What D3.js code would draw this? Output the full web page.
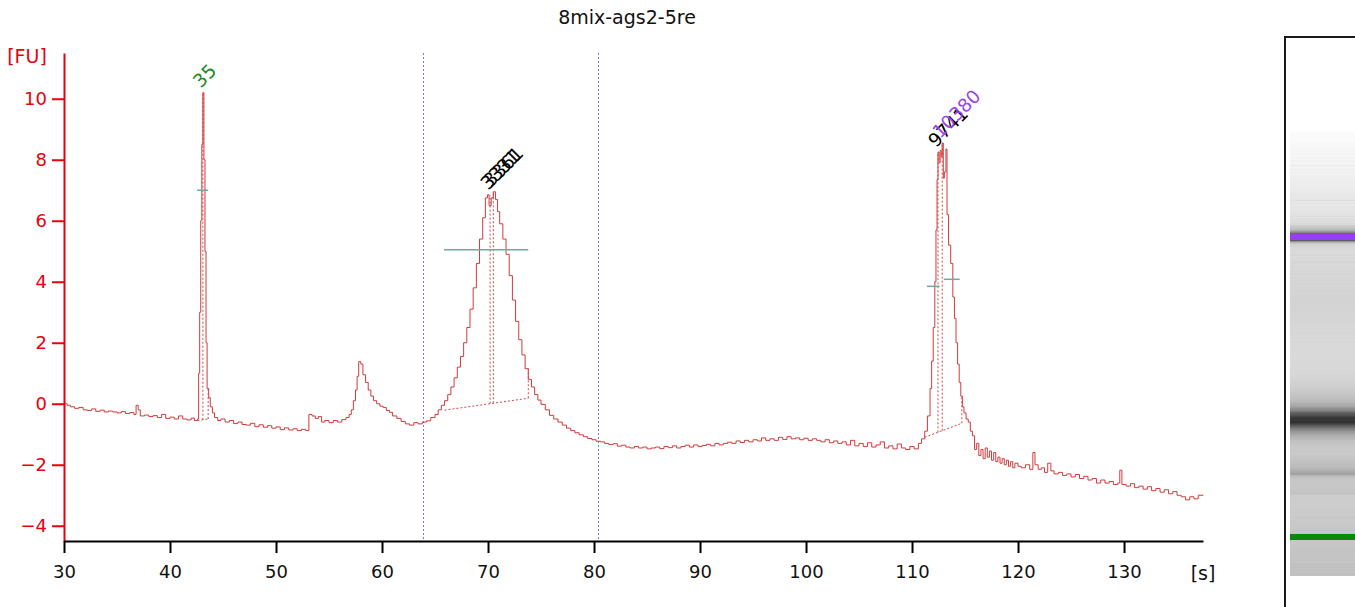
<!DOCTYPE html>
<html>
<head>
<meta charset="utf-8">
<script src="https://cdn.jsdelivr.net/npm/d3@7"></script>
<style>
  html, body { margin: 0; padding: 0; background: #ffffff; }
  svg { display: block; font-family: "DejaVu Sans", Verdana, sans-serif; }
</style>
</head>
<body>
<svg id="chart" width="1355" height="607"></svg>
<script>
// ---------------- DATA ----------------
const chartTitle = "8mix-ags2-5re";
const xTicks = [30, 40, 50, 60, 70, 80, 90, 100, 110, 120, 130];
const yTicks = [-4, -2, 0, 2, 4, 6, 8, 10];
const xUnit = "[s]";
const yUnit = "[FU]";

const timeS = [
  30.0, 30.3, 30.6, 31.0, 31.4, 31.8, 32.2, 32.6, 33.0, 33.4, 33.8, 34.2, 34.6, 35.0, 35.4, 35.8, 36.2, 36.6, 36.8, 37.0,
  37.2, 37.6, 38.0, 38.4, 38.8, 39.2, 39.6, 40.0, 40.4, 40.8, 41.2, 41.6, 42.0, 42.3, 42.6, 42.7, 42.8, 42.9, 43.0, 43.1,
  43.2, 43.3, 43.4, 43.5, 43.65, 43.8, 44.0, 44.2, 44.5, 44.8, 45.2, 45.6, 46.0, 46.4, 46.8, 47.2, 47.6, 48.0, 48.4, 48.8,
  49.2, 49.6, 50.0, 50.4, 50.8, 51.2, 51.6, 52.0, 52.4, 52.8, 53.1, 53.4, 53.7, 54.0, 54.3, 54.6, 55.0, 55.4, 55.8, 56.2,
  56.6, 56.9, 57.1, 57.3, 57.5, 57.65, 57.8, 58.0, 58.2, 58.45, 58.7, 58.95, 59.2, 59.5, 59.8, 60.1, 60.4, 60.7, 61.0, 61.4,
  61.8, 62.2, 62.6, 63.0, 63.4, 63.8, 64.2, 64.6, 65.0, 65.3, 65.6, 65.9, 66.2, 66.5, 66.8, 67.1, 67.4, 67.7, 68.0, 68.3,
  68.6, 68.9, 69.2, 69.5, 69.75, 69.95, 70.1, 70.3, 70.5, 70.7, 70.9, 71.1, 71.4, 71.7, 72.0, 72.3, 72.6, 72.9, 73.2, 73.5,
  73.8, 74.1, 74.4, 74.7, 75.0, 75.4, 75.8, 76.2, 76.6, 77.0, 77.4, 77.8, 78.2, 78.6, 79.0, 79.4, 79.8, 80.2, 80.6, 81.0,
  81.4, 81.8, 82.2, 82.6, 83.0, 83.4, 83.8, 84.2, 84.6, 85.0, 85.4, 85.8, 86.2, 86.6, 87.0, 87.4, 87.8, 88.2, 88.6, 89.0,
  89.4, 89.8, 90.2, 90.6, 91.0, 91.4, 91.8, 92.2, 92.6, 93.0, 93.4, 93.8, 94.2, 94.6, 95.0, 95.4, 95.8, 96.2, 96.6, 97.0,
  97.4, 97.8, 98.2, 98.6, 99.0, 99.4, 99.8, 100.2, 100.6, 101.0, 101.4, 101.8, 102.2, 102.6, 103.0, 103.4, 103.8, 104.2, 104.6, 105.0,
  105.4, 105.8, 106.2, 106.6, 107.0, 107.4, 107.8, 108.2, 108.6, 109.0, 109.4, 109.8, 110.2, 110.6, 110.9, 111.2, 111.45, 111.7, 111.85, 112.0,
  112.15, 112.26, 112.36, 112.45, 112.55, 112.65, 112.75, 112.85, 112.95, 113.05, 113.2, 113.3, 113.45, 113.65, 113.85, 114.0, 114.15, 114.3, 114.45, 114.6,
  114.75, 114.9, 115.1, 115.3, 115.5, 115.7, 115.9, 116.1, 116.3, 116.5, 116.7, 116.9, 117.1, 117.3, 117.5, 117.7, 117.9, 118.1, 118.3, 118.5,
  118.7, 118.9, 119.1, 119.3, 119.5, 119.7, 120.0, 120.3, 120.7, 121.1, 121.4, 121.6, 121.9, 122.2, 122.5, 122.8, 123.1, 123.4, 123.8, 124.2,
  124.6, 125.0, 125.4, 125.8, 126.2, 126.6, 127.0, 127.4, 127.8, 128.2, 128.6, 129.0, 129.4, 129.6, 129.8, 130.2, 130.6, 131.0, 131.4, 131.8,
  132.2, 132.6, 133.0, 133.4, 133.8, 134.2, 134.6, 135.0, 135.4, 135.8, 136.2, 136.6, 137.0, 137.45
];
const fluorescenceFU = [
  0.0, -0.05, -0.1, -0.15, -0.12, -0.2, -0.22, -0.17, -0.25, -0.21, -0.27, -0.24, -0.27, -0.3, -0.26, -0.32, -0.29, -0.35, -0.05, -0.2,
  -0.4, -0.37, -0.42, -0.39, -0.45, -0.35, -0.48, -0.44, -0.5, -0.4, -0.5, -0.53, -0.47, -0.55, -0.5, 1.0, 3.0, 6.0, 8.5, 10.2,
  8.0, 5.0, 2.0, 0.5, 0.2, -0.1, -0.3, -0.45, -0.55, -0.5, -0.6, -0.55, -0.65, -0.6, -0.68, -0.7, -0.64, -0.75, -0.69, -0.77,
  -0.72, -0.8, -0.76, -0.85, -0.79, -0.86, -0.82, -0.88, -0.84, -0.88, -0.35, -0.4, -0.48, -0.42, -0.6, -0.55, -0.62, -0.55, -0.6, -0.52,
  -0.45, -0.35, -0.2, 0.1, 0.45, 0.9, 1.38, 1.3, 0.95, 0.7, 0.45, 0.25, 0.1, 0.0, -0.08, -0.12, -0.22, -0.28, -0.4, -0.48,
  -0.58, -0.66, -0.7, -0.62, -0.66, -0.6, -0.56, -0.45, -0.35, -0.2, -0.05, 0.1, 0.3, 0.55, 0.85, 1.2, 1.55, 2.0, 2.5, 3.1,
  3.8, 4.6, 5.4, 6.1, 6.75, 6.85, 6.5, 6.75, 6.95, 6.7, 6.3, 5.9, 5.4, 4.9, 4.2, 3.4, 2.7, 2.1, 1.6, 1.15,
  0.8, 0.55, 0.3, 0.12, -0.02, -0.2, -0.38, -0.5, -0.6, -0.7, -0.8, -0.88, -0.95, -1.02, -1.08, -1.14, -1.18, -1.23, -1.25, -1.3,
  -1.34, -1.31, -1.39, -1.36, -1.42, -1.45, -1.4, -1.45, -1.42, -1.48, -1.45, -1.42, -1.47, -1.4, -1.44, -1.38, -1.45, -1.4, -1.36, -1.42,
  -1.35, -1.4, -1.37, -1.33, -1.38, -1.3, -1.35, -1.3, -1.26, -1.3, -1.22, -1.27, -1.2, -1.25, -1.18, -1.22, -1.12, -1.2, -1.15, -1.2,
  -1.1, -1.17, -1.08, -1.15, -1.12, -1.18, -1.13, -1.2, -1.15, -1.2, -1.25, -1.18, -1.28, -1.22, -1.3, -1.25, -1.35, -1.2, -1.38, -1.3,
  -1.4, -1.28, -1.42, -1.35, -1.25, -1.45, -1.38, -1.48, -1.32, -1.45, -1.5, -1.4, -1.48, -1.3, -1.15, -0.9, -0.4, 0.5, 1.4, 2.5,
  4.0, 5.7, 7.35, 8.25, 7.9, 8.3, 8.1, 8.55, 7.4, 7.6, 8.35, 6.2, 5.2, 4.6, 3.5, 2.8, 2.0, 1.3, 0.7, 0.25,
  -0.1, -0.3, -0.5, -0.6, -0.9, -1.05, -1.5, -1.3, -1.7, -1.5, -1.8, -1.45, -1.75, -1.55, -1.85, -1.6, -1.9, -1.75, -1.95, -1.8,
  -2.0, -1.85, -2.05, -1.9, -2.1, -1.95, -2.05, -2.1, -2.0, -2.15, -1.6, -2.0, -2.15, -2.1, -2.25, -1.95, -2.2, -2.3, -2.25, -2.35,
  -2.3, -2.4, -2.32, -2.45, -2.38, -2.5, -2.45, -2.6, -2.5, -2.6, -2.55, -2.65, -2.6, -2.18, -2.65, -2.7, -2.62, -2.75, -2.7, -2.8,
  -2.72, -2.85, -2.78, -2.9, -2.82, -2.95, -2.88, -3.0, -3.05, -3.15, -3.05, -3.12, -3.0, -2.98
];

// peak annotations
const peakLabels = ["35", "3331", "3361", "9741", "10380"];
const peakTimes  = [43.1, 70.2, 70.5, 112.45, 112.85];
const peakFU     = [10.2, 6.85, 6.95, 8.25, 8.55];

// half-height (peak width) markers
const widthStart = [42.55, 65.85, 111.4, 113.0];
const widthEnd   = [43.6, 73.8, 112.6, 114.5];
const widthFU    = [7.0, 5.05, 3.85, 4.08];

// integration regions (dotted baselines)
const regionStart   = [42.6, 65.9, 111.2];
const regionStartFU = [-0.55, -0.21, -1.1];
const regionEnd     = [43.6, 73.8, 114.7];
const regionEndFU   = [-0.5, 0.18, -0.64];
const regionPeaks   = [[0], [1, 2], [3, 4]];

// region-of-interest markers (vertical dashed lines)
const markerTimes = [63.9, 80.4];

// gel markers: lower (35) and upper (10380)
const gelMarkerTimes = [43.1, 112.9];

// ---------------- DRAWING ----------------
const svg = d3.select("#chart");
const W = 1355, H = 607;
const plot = { left: 64, right: 1203, top: 53, bottom: 541 };

const x = d3.scaleLinear().domain([30, 137.45]).range([plot.left, plot.right]);
const y = d3.scaleLinear().domain([-4.5, 11.5]).range([plot.bottom, plot.top]);

const traceColor = "#cf3c3c";
const axisRed = "#e8000b";
const labelColors = { "35": "#1b8a1b", "3331": "#000000", "3361": "#000000", "9741": "#000000", "10380": "#9b45e8" };

const data = timeS.map((t, i) => ({ t, v: fluorescenceFU[i] }));
const bis = d3.bisector(d => d.t).left;
function traceAt(t) {
  let i = bis(data, t);
  if (i <= 0) return data[0].v;
  if (i >= data.length) return data[data.length - 1].v;
  return data[i - 1].v; // step-after value
}
function baseAt(r, t) {
  return regionStartFU[r] + (regionEndFU[r] - regionStartFU[r]) * (t - regionStart[r]) / (regionEnd[r] - regionStart[r]);
}

// title
svg.append("text")
  .attr("x", 627).attr("y", 24)
  .attr("text-anchor", "middle")
  .attr("font-size", 19)
  .attr("fill", "#111")
  .text(chartTitle);

// vertical dashed markers
svg.append("g").selectAll("line").data(markerTimes).join("line")
  .attr("x1", d => Math.round(x(d)) + 0.5).attr("x2", d => Math.round(x(d)) + 0.5)
  .attr("y1", plot.top).attr("y2", plot.bottom)
  .attr("stroke", "#7878ec").attr("stroke-width", 1)
  .attr("stroke-dasharray", "2,2");

// dotted integration baselines
const dotted = svg.append("g")
  .attr("stroke", "#d24a4a").attr("stroke-width", 1)
  .attr("stroke-dasharray", "2,2").attr("fill", "none");
regionStart.forEach((s, r) => {
  dotted.append("line")
    .attr("x1", x(s)).attr("y1", y(regionStartFU[r]))
    .attr("x2", x(regionEnd[r])).attr("y2", y(regionEndFU[r]));
  dotted.append("line")
    .attr("x1", x(regionEnd[r])).attr("x2", x(regionEnd[r]))
    .attr("y1", y(regionEndFU[r])).attr("y2", y(traceAt(regionEnd[r])));
  regionPeaks[r].forEach(p => {
    dotted.append("line")
      .attr("x1", x(peakTimes[p])).attr("x2", x(peakTimes[p]))
      .attr("y1", y(baseAt(r, peakTimes[p]))).attr("y2", y(peakFU[p]));
  });
});

// trace
svg.append("path")
  .datum(data)
  .attr("fill", "none")
  .attr("stroke", traceColor)
  .attr("stroke-width", 1)
  .attr("d", d3.line().x(d => x(d.t)).y(d => y(d.v)).curve(d3.curveStepAfter));

// half-height width markers
svg.append("g").selectAll("line").data(widthStart).join("line")
  .attr("x1", (d) => x(d)).attr("x2", (d, i) => x(widthEnd[i]))
  .attr("y1", (d, i) => y(widthFU[i])).attr("y2", (d, i) => y(widthFU[i]))
  .attr("stroke", "#76a6a0").attr("stroke-width", 1.5);

// peak labels
svg.append("g").selectAll("text").data(peakLabels).join("text")
  .attr("transform", (d, i) => `translate(${x(peakTimes[i]) - 2},${y(peakFU[i]) - 4}) rotate(-45)`)
  .attr("font-size", 18.5)
  .attr("fill", d => labelColors[d])
  .text(d => d);

// axes
const yAxis = svg.append("g")
  .attr("transform", `translate(${plot.left},0)`)
  .call(d3.axisLeft(y).tickValues(yTicks).tickSize(12).tickSizeOuter(0).tickPadding(5));
yAxis.select(".domain").attr("stroke", axisRed).attr("stroke-width", 2);
yAxis.selectAll(".tick line").attr("stroke", axisRed).attr("stroke-width", 2);
yAxis.selectAll(".tick text").attr("fill", axisRed).attr("font-size", 18)
  .attr("font-family", "DejaVu Sans, sans-serif");

const xAxis = svg.append("g")
  .attr("transform", `translate(0,${plot.bottom})`)
  .call(d3.axisBottom(x).tickValues(xTicks).tickSize(12).tickSizeOuter(0).tickPadding(12));
xAxis.select(".domain").attr("stroke", "#000").attr("stroke-width", 2);
xAxis.selectAll(".tick line").attr("stroke", "#000").attr("stroke-width", 2);
xAxis.selectAll(".tick text").attr("fill", "#111").attr("font-size", 18)
  .attr("font-family", "DejaVu Sans, sans-serif");

svg.append("text").attr("x", 27).attr("y", 63).attr("text-anchor", "middle")
  .attr("font-size", 19).attr("fill", axisRed).text(yUnit);
svg.append("text").attr("x", 1203).attr("y", 580).attr("text-anchor", "middle")
  .attr("font-size", 19).attr("fill", "#111").text(xUnit);

// ---------------- GEL ----------------
const lane = { left: 1290, right: W, top: 120, bottom: 576 };
const gelY = d3.scaleLinear().domain(gelMarkerTimes).range([537, 237]);
const gray = d3.scaleLinear().domain([-3.0, -1.3, 7.0]).range([250, 214, 45]).clamp(true);

svg.append("defs").append("clipPath").attr("id", "laneClip")
  .append("rect").attr("x", lane.left).attr("y", lane.top)
  .attr("width", lane.right - lane.left).attr("height", lane.bottom - lane.top);

const gel = svg.append("g").attr("clip-path", "url(#laneClip)");
gel.selectAll("rect.strip").data(data.slice(0, -1)).join("rect")
  .attr("class", "strip")
  .attr("x", lane.left).attr("width", lane.right - lane.left)
  .attr("y", (d, i) => gelY(data[i + 1].t))
  .attr("height", (d, i) => Math.max(0.5, gelY(d.t) - gelY(data[i + 1].t)) + 0.6)
  .attr("fill", d => { const g = Math.round(gray(d.v)); return `rgb(${g},${g},${g})`; });

const gelMarkerColors = ["#0b870b", "#9a3cf2"];
gel.selectAll("rect.marker").data(gelMarkerTimes).join("rect")
  .attr("class", "marker")
  .attr("x", lane.left).attr("width", lane.right - lane.left)
  .attr("y", d => gelY(d) - 3).attr("height", 6)
  .attr("fill", (d, i) => gelMarkerColors[i]);

// gel frame
svg.append("path")
  .attr("d", `M1285,${H} L1285,37 L${W},37`)
  .attr("fill", "none").attr("stroke", "#1a1a1a").attr("stroke-width", 2);
</script>
</body>
</html>
